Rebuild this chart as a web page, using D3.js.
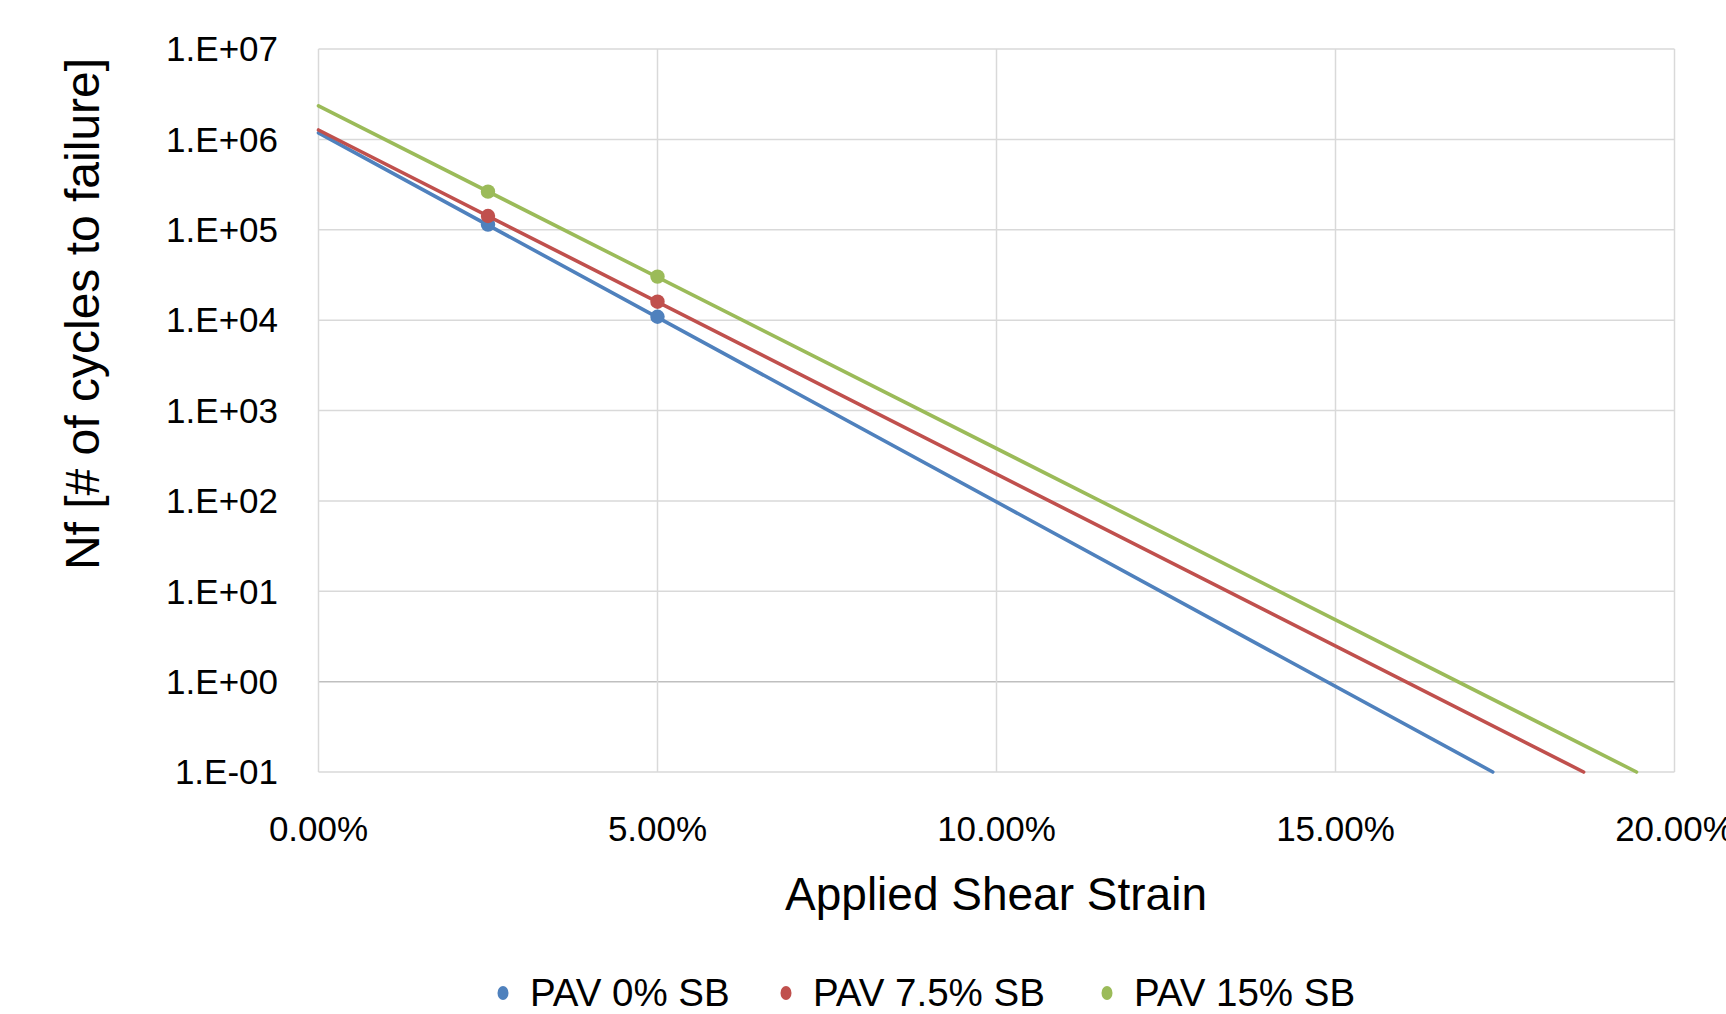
<!DOCTYPE html>
<html>
<head>
<meta charset="utf-8">
<style>
  body { margin: 0; background: #fff; }
  text { font-family: "Liberation Sans", Arial, sans-serif; fill: #000; }
  .grid line { stroke: #d9d9d9; stroke-width: 1.5; }
</style>
<script src="https://cdn.jsdelivr.net/npm/d3@7"></script>
</head>
<body>
<script>
// series
var seriesNames = ['PAV 0% SB', 'PAV 7.5% SB', 'PAV 15% SB'];
var seriesColors = ['#4f81bd', '#c0504d', '#9bbb59'];
// measured points (strain, Nf)
var markerStrain = [0.025, 0.05];
var markersPav0 = [1.14e5, 1.09e4];
var markersPav75 = [1.42e5, 1.60e4];
var markersPav15 = [2.64e5, 3.03e4];
// fitted lines: Nf at 0% strain, and strain where Nf reaches 0.1
var lineStartNf = [1.18e6, 1.27e6, 2.35e6];
var lineEndStrain = [0.1732, 0.1866, 0.1944];
var lineEndNf = 0.1;
// axis ticks
var xTicks = [0, 0.05, 0.10, 0.15, 0.20];
var yTicks = [1e-1, 1e0, 1e1, 1e2, 1e3, 1e4, 1e5, 1e6, 1e7];

var W = 1726, H = 1014;
var pLeft = 318.5, pRight = 1674.5, pTop = 49, pBottom = 772;

var svg = d3.select('body').append('svg')
  .attr('width', W).attr('height', H);

var x = d3.scaleLinear().domain([0, 0.2]).range([pLeft, pRight]);
var y = d3.scaleLog().domain([1e-1, 1e7]).range([pBottom, pTop]);

// gridlines
var grid = svg.append('g').attr('class', 'grid');
grid.selectAll('.hg').data(yTicks).enter().append('line')
  .attr('x1', pLeft).attr('x2', pRight)
  .attr('y1', function(d) { return y(d); })
  .attr('y2', function(d) { return y(d); })
  .style('stroke', function(d) { return d === 1 ? '#bfbfbf' : null; });
grid.selectAll('.vg').data(xTicks).enter().append('line')
  .attr('y1', pTop).attr('y2', pBottom)
  .attr('x1', function(d) { return x(d); })
  .attr('x2', function(d) { return x(d); });

// tick labels
var fmtY = function(d) {
  var e = Math.round(Math.log10(d));
  return '1.E' + (e < 0 ? '-' : '+') + d3.format('02d')(Math.abs(e));
};
svg.append('g').selectAll('text').data(yTicks).enter().append('text')
  .attr('x', 278).attr('y', function(d) { return y(d); })
  .attr('dy', '0.35em').attr('text-anchor', 'end')
  .style('font-size', '35px')
  .text(fmtY);
svg.append('g').selectAll('text').data(xTicks).enter().append('text')
  .attr('x', function(d) { return x(d); }).attr('y', 841)
  .attr('text-anchor', 'middle')
  .style('font-size', '35px')
  .text(d3.format('.2%'));

// axis titles
svg.append('text')
  .attr('x', 996).attr('y', 910)
  .attr('text-anchor', 'middle')
  .style('font-size', '46px')
  .text('Applied Shear Strain');
svg.append('text')
  .attr('transform', 'translate(99,314) rotate(-90)')
  .attr('text-anchor', 'middle')
  .style('font-size', '48px')
  .text('Nf [# of cycles to failure]');

// lines + markers
var markers = [markersPav0, markersPav75, markersPav15];
var line = d3.line()
  .x(function(d) { return x(d[0]); })
  .y(function(d) { return y(d[1]); });

seriesNames.forEach(function(name, i) {
  var pts = [[0, lineStartNf[i]], [lineEndStrain[i], lineEndNf]];
  svg.append('path')
    .datum(pts)
    .attr('d', line)
    .attr('fill', 'none')
    .attr('stroke', seriesColors[i])
    .attr('stroke-width', 3.6)
    .attr('stroke-linecap', 'round');
  svg.append('g').selectAll('circle')
    .data(markers[i]).enter().append('circle')
    .attr('cx', function(d, j) { return x(markerStrain[j]); })
    .attr('cy', function(d) { return y(d); })
    .attr('r', 7.2)
    .attr('fill', seriesColors[i]);
});

// legend
var legendX = [503, 786, 1107];
var lg = svg.append('g').selectAll('g').data(seriesNames).enter().append('g')
  .attr('transform', function(d, i) { return 'translate(' + legendX[i] + ',993)'; });
lg.append('ellipse')
  .attr('rx', 5.5).attr('ry', 7)
  .attr('fill', function(d, i) { return seriesColors[i]; });
lg.append('text')
  .attr('x', 27).attr('y', 0).attr('dy', '0.35em')
  .style('font-size', '38.5px')
  .text(function(d) { return d; });
</script>
</body>
</html>
